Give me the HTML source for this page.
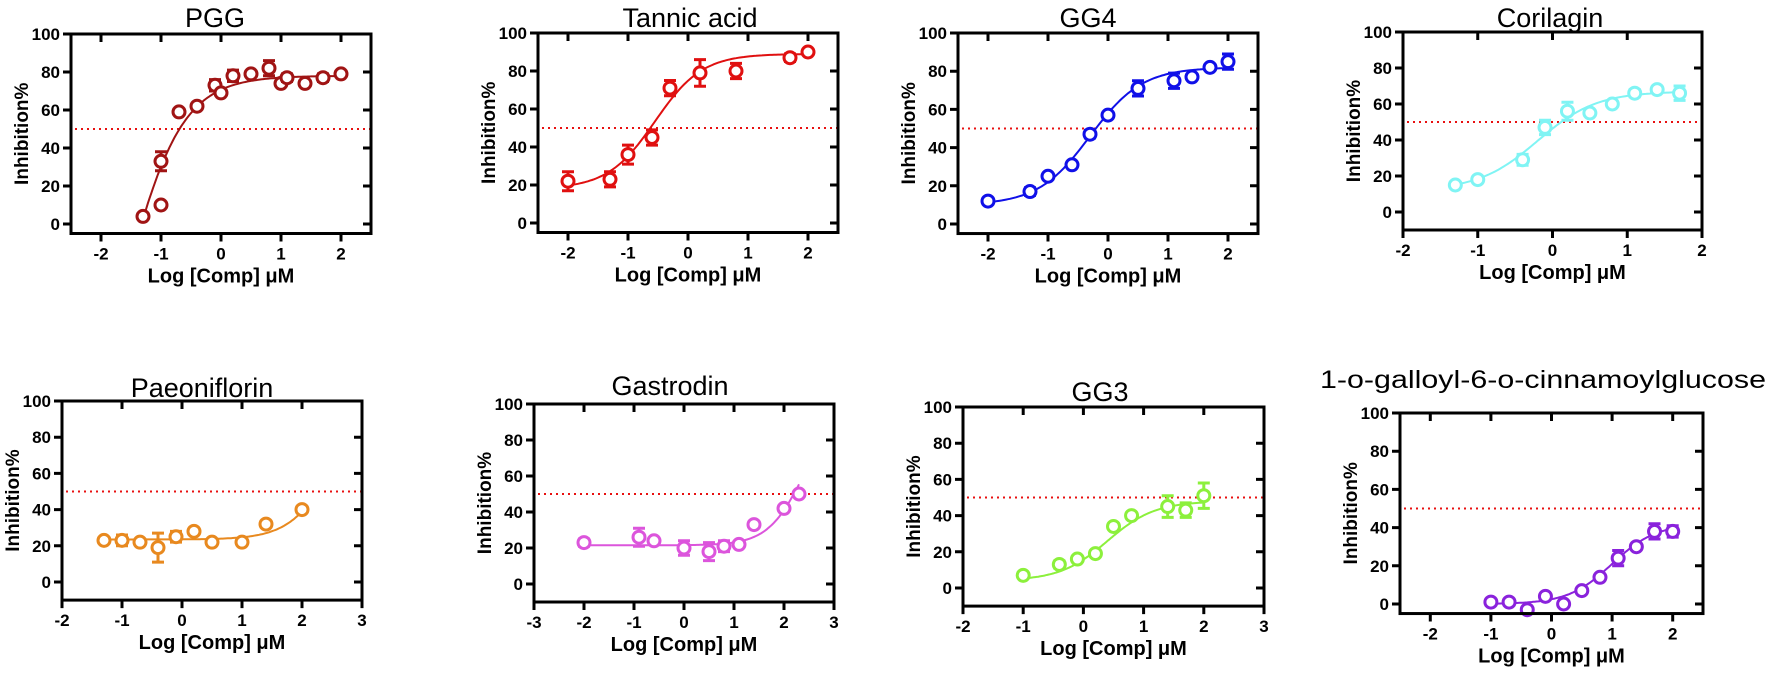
<!DOCTYPE html>
<html><head><meta charset="utf-8"><style>
html,body{margin:0;padding:0;background:#fff;}
svg{display:block;font-family:"Liberation Sans",Arial,sans-serif;}
</style></head><body>
<svg id="fig" width="1772" height="675" viewBox="0 0 1772 675" xmlns="http://www.w3.org/2000/svg"></svg>
<script>
// ---- data ----
const titles = ["PGG","Tannic acid","GG4","Corilagin","Paeoniflorin","Gastrodin","GG3","1-o-galloyl-6-o-cinnamoylglucose"];
const colors = ["#a01414","#e01010","#1010e8","#80f4f4","#e8891f","#dc55dc","#8cf03c","#8a22dc"];
const xVals = [
 [-1.3,-1,-1,-0.7,-0.4,-0.1,0,0.2,0.5,0.8,1,1.1,1.4,1.7,2],
 [-2,-1.3,-1,-0.6,-0.3,0.2,0.8,1.7,2],
 [-2,-1.3,-1,-0.6,-0.3,0,0.5,1.1,1.4,1.7,2],
 [-1.3,-1,-0.4,-0.1,0.2,0.5,0.8,1.1,1.4,1.7],
 [-1.3,-1,-0.7,-0.4,-0.1,0.2,0.5,1,1.4,2],
 [-2,-0.9,-0.6,0,0.5,0.8,1.1,1.4,2,2.3],
 [-1,-0.4,-0.1,0.2,0.5,0.8,1.4,1.7,2],
 [-1,-0.7,-0.4,-0.1,0.2,0.5,0.8,1.1,1.4,1.7,2]
];
const yVals = [
 [4,33,10,59,62,73,69,78,79,82,74,77,74,77,79],
 [22,23,36,45,71,79,80,87,90],
 [12,17,25,31,47,57,71,75,77,82,85],
 [15,18,29,47,56,55,60,66,68,66],
 [23,23,22,19,25,28,22,22,32,40],
 [23,26,24,20,18,21,22,33,42,50],
 [7,13,16,19,34,40,45,43,51],
 [1,1,-3,4,0,7,14,24,30,38,38]
];
const errVals = [
 [0,5,0,0,0,3,0,3,0,4,0,2,0,2,0],
 [5,4,5,4,4,7,4,2,1],
 [1,2,1,1,2,1,4,4,1,1,4],
 [1,1,3,4,5,1,1,2,1,4],
 [1,3,1,8,3,1,1,1,1,1],
 [2,5,1,4,5,3,1,1,1,1],
 [1,2,1,1,1,1,6,4,7],
 [0,0,0,0,0,0,0,4,0,4,3]
];
// 4PL fit parameters: bottom, top, logEC50, hill
const fitBottom = [-150,18,10,12,23.5,21.5,4,0];
const fitTop    = [78,89,82,67,100,100,48,42];
const fitEC50   = [-1.64,-0.55,-0.3,-0.2,2.5,2.4,0.4,1.0];
const fitHill   = [0.9,1.1,1.0,1.1,1.2,1.2,1.1,1.2];
const xDomains = [[-2.5,2.5],[-2.5,2.5],[-2.5,2.5],[-2,2],[-2,3],[-3,3],[-2,3],[-2.5,2.5]];
const yMins = [-5,-5,-5,-10,-10,-10,-10,-5];
const yTicks = [0,20,40,60,80,100];
const threshold = 50;

// ---- layout ----
const boxes = [
 {L:71,R:371,y100:34,y0:224},{L:538,R:838,y100:33,y0:223},{L:958,R:1258,y100:33,y0:224},{L:1403,R:1702,y100:32,y0:212},
 {L:62,R:362,y100:401,y0:582},{L:534,R:834,y100:404,y0:584},{L:963,R:1264,y100:407,y0:588},{L:1400,R:1703,y100:413,y0:604}
];
const titlePos = [[215,27],[690,27],[1088,27],[1550,27],[202,397],[670,395],[1100,401],[1320,388]];

const NS="http://www.w3.org/2000/svg";
const svg=document.getElementById('fig');
function mk(tag,attrs,parent){const e=document.createElementNS(NS,tag);for(const k in attrs)e.setAttribute(k,attrs[k]);(parent||svg).appendChild(e);return e;}

titles.forEach((t,i)=>{
 const b=boxes[i];
 const g=mk('g',{});
 
 
 const [x0,x1]=xDomains[i];
 const sx=v=>b.L+(v-x0)/(x1-x0)*(b.R-b.L);
 const k=(b.y0-b.y100)/100;
 const sy=v=>b.y0-v*k;
 const B=sy(yMins[i]), T=b.y100;
 const th=mk('line',{x1:b.L+4,x2:b.R,y1:sy(threshold),y2:sy(threshold),stroke:'#e81010','stroke-width':2,'stroke-dasharray':'2,4'},g);
 
 
 let d='';
 const xa=xVals[i][0], xb=xVals[i][xVals[i].length-1];
 for(let s=0;s<=120;s++){const xv=xa+(xb-xa)*s/120;
  const yv=fitBottom[i]+(fitTop[i]-fitBottom[i])/(1+Math.pow(10,fitHill[i]*(fitEC50[i]-xv)));
  d+=(s?'L':'M')+sx(xv).toFixed(1)+','+sy(yv).toFixed(1);}
 const cv=mk('path',{d:d,fill:'none',stroke:colors[i],'stroke-width':2},g);
 
 
 xVals[i].forEach((xv,j)=>{
  const cx=sx(xv), cy=sy(yVals[i][j]), e=errVals[i][j]*k;
  if(e>0){
   const eb=mk('path',{d:`M${cx},${cy-e}V${cy+e}M${cx-6},${cy-e}H${cx+6}M${cx-6},${cy+e}H${cx+6}`,stroke:colors[i],'stroke-width':3,fill:'none'},g);
   
   
  }
  const c=mk('circle',{cx:cx,cy:cy,r:6,fill:'#fff',stroke:colors[i],'stroke-width':3},g);
  
  
 });
 const fr=mk('rect',{x:b.L,y:T,width:b.R-b.L,height:B-T,fill:'none',stroke:'#000','stroke-width':3},g);
 
 
 yTicks.forEach(v=>{
  const y=sy(v);
  mk('path',{d:`M${b.L-8},${y}H${b.L}M${b.R-8},${y}H${b.R}`,stroke:'#000','stroke-width':3},g);
  const tl=mk('text',{x:b.L-11,y:y+6,'text-anchor':'end','font-size':17,'font-weight':'bold'},g);
  tl.textContent=v;
  
  
 });
 for(let v=Math.ceil(x0);v<=Math.floor(x1);v++){
  const x=sx(v);
  mk('path',{d:`M${x},${B}V${B+8}M${x},${T}V${T+8}`,stroke:'#000','stroke-width':3},g);
  const tl=mk('text',{x:x,y:B+26,'text-anchor':'middle','font-size':17,'font-weight':'bold'},g);
  tl.textContent=v;
  
  
 }
 const my=(T+B)/2;
 const yl=mk('text',{x:b.L-43,y:my,'text-anchor':'middle','font-size':19,'font-weight':'bold',transform:`rotate(-90 ${b.L-43} ${my})`},g);
 yl.textContent='Inhibition%';
 
 
 const xl=mk('text',{x:(b.L+b.R)/2,y:B+49,'text-anchor':'middle','font-size':20,'font-weight':'bold'},g);
 xl.textContent='Log [Comp] \u03BCM';
 
 
 const ta = i===7
   ? {x:titlePos[i][0],y:titlePos[i][1],'text-anchor':'start','font-size':25,textLength:446,lengthAdjust:'spacingAndGlyphs'}
   : {x:titlePos[i][0],y:titlePos[i][1],'text-anchor':'middle','font-size':27};
 const tt=mk('text',ta,g);
 tt.textContent=t;
 
 
});
</script>
</body></html>
